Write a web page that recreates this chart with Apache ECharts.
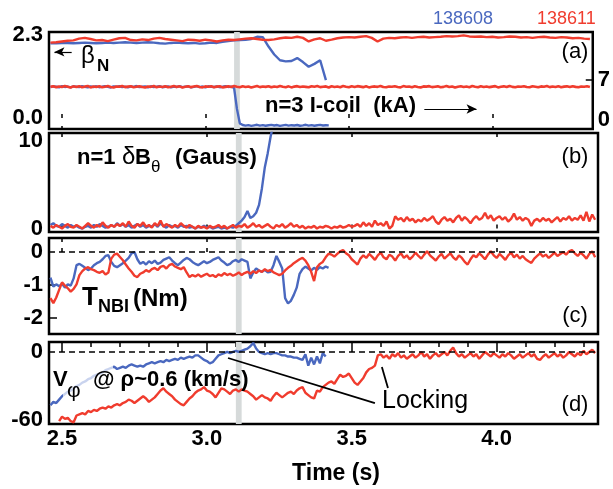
<!DOCTYPE html>
<html><head><meta charset="utf-8">
<script src="https://cdn.jsdelivr.net/npm/echarts@6/dist/echarts.min.js"></script>
<style>html,body{margin:0;padding:0;background:#fff}#c{width:613px;height:489px}</style>
</head><body><div id="c"></div>
<script>
const RED = '#f03c2e', BLUE = '#4a68bf', FADED = '#c9d3ee', BAND = '#d6dada';
const FF = "'Liberation Sans', Arial, sans-serif";

// Time axis
const X_MIN = 2.455, X_MAX = 4.35;
const xTicks = [2.5, 3.0, 3.5, 4.0];
const xMinorTicks = [2.5,2.6,2.7,2.8,2.9,3.0,3.1,3.2,3.3,3.4,3.5,3.6,3.7,3.8,3.9,4.0,4.1,4.2,4.3];
const lockBand = [3.10, 3.12];

// (a) beta_N, start 2.46, step 0.02
const betaT0 = 2.46, betaDt = 0.02;
const betaRed = [2.09,2.10,2.12,2.14,2.15,2.20,2.22,2.19,2.15,2.16,
 2.13,2.17,2.21,2.22,2.16,2.15,2.18,2.16,2.20,2.22,
 2.19,2.17,2.15,2.13,2.17,2.16,2.14,2.17,2.15,2.12,
 2.15,2.17,2.16,2.18,2.20,2.21,2.19,2.17,2.16,2.18,
 2.21,2.23,2.22,2.25,2.22,2.12,2.18,2.21,2.14,2.17,
 2.21,2.23,2.24,2.23,2.25,2.27,2.22,2.12,2.20,2.22,
 2.21,2.23,2.24,2.22,2.24,2.25,2.23,2.24,2.25,2.27,
 2.26,2.27,2.29,2.26,2.25,2.26,2.24,2.25,2.23,2.24,
 2.26,2.25,2.23,2.24,2.22,2.24,2.25,2.23,2.22,2.24,
 2.23,2.21,2.22,2.20,2.19];
const betaBlue = [2.07,2.07,2.08,2.08,2.07,2.08,2.09,2.08,2.07,2.08,
 2.09,2.08,2.09,2.10,2.09,2.08,2.09,2.10,2.09,2.07,
 2.06,2.08,2.09,2.08,2.07,2.08,2.06,2.07,2.09,2.08,
 2.11,2.13,2.15,2.16,2.17,2.19,2.25,2.24,1.98,1.76,
 1.60,1.57,1.58,1.66,1.55,1.42,1.50,1.60,1.05];
const betaTicks = [0, 2.3];

// (a) n=3 I-coil (kA), start 2.46, step 0.01
const T0 = 2.46, DT = 0.01;
const icoilRed = [5.95,6.05,5.88,6.02,5.92,6.08,5.97,5.85,6.03,5.94,
 6.06,5.90,5.99,6.10,5.87,6.01,5.93,6.04,5.89,5.98,
 6.07,5.92,5.86,6.02,5.96,6.09,5.91,5.99,6.04,5.88,
 5.97,6.06,5.93,5.87,6.01,5.95,6.08,5.90,6.00,5.94,
 6.05,5.89,5.98,6.07,5.92,6.03,5.86,5.96,6.04,5.91,
 6.00,6.08,5.93,5.88,6.02,5.97,6.06,5.90,5.99,6.05,
 5.87,5.95,6.03,5.92,6.09,5.98,5.89,6.04,5.94,6.01,
 5.86,5.97,6.07,5.91,6.00,5.95,6.05,5.88,6.02,5.93,
 6.08,5.96,5.90,6.03,5.87,5.99,6.06,5.92,6.01,5.95,
 5.89,6.04,5.97,6.07,5.91,5.98,6.02,5.86,6.05,5.94,
 6.00,5.90,6.08,5.96,5.88,6.03,5.93,6.06,5.99,5.91,
 6.04,5.87,5.97,6.02,5.95,6.09,5.92,5.89,6.01,5.98,
 6.05,5.93,5.88,6.07,5.96,6.00,5.90,6.04,5.94,5.87,
 6.02,5.99,6.06,5.91,5.97,6.03,5.89,5.95,6.08,5.92,
 6.01,5.86,5.98,6.05,5.93,6.00,5.90,6.07,5.96,5.88,
 6.04,5.94,6.02,5.91,5.99,6.06,5.87,5.97,6.03,5.92,
 6.09,5.95,5.89,6.01,5.98,6.05,5.93,5.90,6.04,5.96,
 5.88,6.02,5.97,6.07,5.91,6.00,5.94,6.06,5.89,5.99,
 6.03,5.92,6.05,5.95,5.88,6.01,5.97,6.04,5.93];
const icoilBlue = [5.92,6.02,5.96,5.89,6.05,5.94,6.00,5.87,6.03,5.97,
 5.91,6.06,5.95,5.88,6.01,5.93,6.04,5.90,5.98,6.07,
 5.94,5.86,6.02,5.96,6.05,5.91,5.99,5.88,6.03,5.95,
 6.08,5.92,5.97,6.01,5.89,6.04,5.93,5.99,6.06,5.90,
 5.96,6.02,5.87,6.00,5.94,6.05,5.91,5.98,6.03,5.89,
 5.95,6.07,5.92,6.00,5.88,6.04,5.96,5.93,6.01,5.90,
 5.97,6.05,5.94,5.99,5.80,2.60,0.40,
 0.15,0.05,0.12,0.02,0.10,0.18,0.06,0.13,0.03,0.11,
 0.16,0.07,0.14,0.01,0.09,0.17,0.05,0.12,0.08,0.15,
 0.03,0.10,0.18,0.06,0.13,0.04,0.11,0.16,0.07,0.12,0.09];
const icoilTicks = [0, 7];

// (b) n=1 dB_theta (Gauss), start 2.46, step 0.01
const dbRed = [0.3,0.1,0.4,0.2,0.0,0.3,0.5,0.2,0.1,0.4,
 0.2,0.0,0.3,0.6,0.3,0.1,0.4,0.2,0.7,0.3,
 0.1,0.4,0.2,0.5,0.3,0.6,0.2,0.8,0.3,0.1,
 0.5,0.3,0.7,0.2,0.4,0.1,0.6,0.3,0.9,0.2,
 0.5,0.3,0.1,0.4,0.2,0.6,0.3,0.1,0.4,0.2,
 0.0,0.3,0.1,0.2,0.0,0.3,0.1,0.2,0.4,0.1,
 0.3,0.0,0.2,0.4,0.1,0.3,0.2,0.5,0.1,0.3,
 0.6,0.2,0.4,0.1,0.3,0.5,0.2,0.0,0.4,0.2,
 0.5,0.1,0.3,0.6,0.2,0.4,0.1,0.3,0.0,0.2,
 0.1,0.3,0.0,0.2,0.1,0.3,0.2,0.0,0.2,0.1,
 0.3,0.1,0.2,0.4,0.2,0.3,0.5,0.2,0.7,0.3,
 0.6,0.2,0.9,0.4,0.6,0.3,0.8,0.0,0.3,1.4,
 1.0,1.2,0.8,1.3,0.9,1.1,0.7,1.0,0.8,1.2,
 0.9,1.1,1.4,0.8,0.5,1.0,1.3,0.9,1.1,0.7,
 1.2,1.5,0.9,1.3,1.0,0.6,1.1,1.4,1.0,1.2,
 1.8,1.1,1.5,0.9,1.2,1.4,1.0,1.3,0.8,1.1,
 1.7,1.0,1.3,0.9,1.2,1.0,0.3,0.9,1.1,0.8,
 1.2,0.9,1.1,0.7,1.0,1.3,0.8,1.2,1.0,1.4,
 0.9,1.2,1.0,1.5,0.9,1.9,0.8,1.6,1.0];
const dbBlue = [0.4,0.6,0.3,0.2,0.5,0.3,0.1,0.4,0.2,0.3,
 0.1,0.0,0.2,0.3,0.1,0.4,0.2,0.5,0.3,0.1,
 0.2,0.4,0.2,0.6,0.3,0.5,0.2,0.4,0.1,0.3,
 0.5,0.2,0.4,0.1,0.3,0.2,0.5,0.2,0.6,0.3,
 0.1,0.4,0.2,0.3,0.1,0.4,0.2,0.3,0.1,0.2,
 0.0,0.2,0.1,0.3,0.1,0.2,0.0,0.1,0.2,0.0,
 0.1,0.0,0.2,0.1,0.3,0.6,0.9,1.3,2.0,1.2,
 1.4,1.8,2.7,4.6,7.0,8.6,10.5,12.0];
const dbTicks = [0, 10];

// (c) T_NBI (Nm), start 2.46, step 0.01
const tnbiRed = [-1.40,-1.55,-1.38,-1.15,-0.92,-1.02,-1.10,-1.20,-1.12,-0.98,
 -0.70,-0.58,-0.50,-0.46,-0.52,-0.55,-0.60,-0.63,-0.58,-0.68,
 -0.62,-0.20,-0.08,-0.05,-0.15,-0.25,-0.38,-0.50,-0.60,-0.72,
 -0.76,-0.66,-0.62,-0.55,-0.60,-0.52,-0.48,-0.55,-0.45,-0.42,
 -0.50,-0.40,-0.36,-0.44,-0.48,-0.52,-0.46,-0.62,-0.76,-0.70,
 -0.74,-0.68,-0.75,-0.70,-0.66,-0.73,-0.70,-0.76,-0.68,-0.72,
 -0.64,-0.70,-0.66,-0.72,-0.68,-0.62,-0.70,-0.64,-0.60,-0.66,
 -0.58,-0.64,-0.56,-0.60,-0.52,-0.58,-0.54,-0.62,-0.66,-0.70,
 -0.66,-0.56,-0.48,-0.42,-0.34,-0.28,-0.22,-0.18,-0.26,-0.40,
 -0.60,-0.88,-0.46,-0.36,-0.30,-0.16,-0.05,-0.08,-0.14,-0.06,
 0.02,0.06,-0.04,-0.10,-0.22,-0.30,-0.38,-0.20,-0.10,-0.18,
 -0.06,-0.14,-0.24,-0.10,-0.02,-0.16,-0.22,-0.08,-0.14,-0.26,
 -0.12,-0.04,-0.18,-0.10,-0.22,-0.14,-0.02,-0.12,-0.20,-0.08,
 0.02,-0.10,-0.18,-0.26,-0.14,-0.06,-0.20,-0.12,-0.04,-0.16,
 -0.24,-0.10,-0.18,-0.30,-0.38,-0.22,-0.10,-0.16,-0.04,-0.12,
 -0.22,-0.08,0.02,-0.10,-0.18,-0.06,-0.14,-0.24,-0.10,-0.02,
 -0.16,-0.08,-0.20,-0.12,-0.22,-0.28,-0.33,-0.20,-0.12,-0.04,
 -0.14,-0.08,-0.18,-0.10,-0.02,-0.12,-0.06,0.00,-0.08,0.02,
 0.06,-0.04,-0.12,-0.02,-0.10,-0.20,-0.06,0.02,-0.16];
const tnbiBlue = [-0.78,-1.05,-0.98,-1.04,-0.96,-1.08,-0.98,-1.02,-0.80,-0.40,
 -0.36,-0.42,-0.48,-0.55,-0.50,-0.40,-0.34,-0.30,-0.22,-0.12,
 -0.10,-0.30,-0.42,-0.46,-0.40,-0.34,-0.26,-0.18,-0.04,0.00,
 -0.22,-0.36,-0.30,-0.38,-0.28,-0.34,-0.26,-0.36,-0.32,-0.24,
 -0.20,-0.16,-0.26,-0.34,-0.40,-0.32,-0.24,-0.18,-0.22,-0.30,
 -0.36,-0.40,-0.34,-0.28,-0.34,-0.30,-0.24,-0.20,-0.16,-0.26,
 -0.32,-0.40,-0.36,-0.28,-0.24,-0.30,-0.22,-0.26,-0.30,-0.80,
 -0.62,-0.50,-0.56,-0.60,-0.54,-0.62,-0.60,-0.40,-0.12,-0.30,
 -0.50,-1.40,-1.56,-1.48,-1.30,-1.08,-0.66,-0.52,-0.44,-0.50,
 -0.56,-0.48,-0.54,-0.46,-0.50,-0.44,-0.48];
const tnbiTicks = [-2, -1, 0];

// (d) V_phi @ rho~0.6 (km/s), step 0.01
const vphiRedT0 = 2.49;
const vphiRed = [-61,-57,-59,-58,-61,-62,-56,-55,-54,-55,
 -52,-53,-51,-52,-50,-49,-50,-48,-49,-47,
 -46,-47,-45,-44,-42,-43,-45,-43,-41,-39,
 -41,-44,-42,-40,-37,-34,-32,-35,-37,-39,
 -42,-44,-46,-47,-44,-41,-39,-36,-34,-33,
 -31,-34,-35,-37,-40,-36,-32,-33,-35,-37,
 -34,-33,-35,-33,-34,-35,-37,-39,-42,-40,
 -38,-40,-41,-43,-39,-36,-38,-40,-38,-36,
 -35,-37,-34,-32,-31,-36,-38,-40,-41,-34,
 -35,-31,-29,-27,-26,-28,-24,-20,-22,-21,
 -19,-23,-27,-29,-26,-23,-18,-15,-14,-12,
 -3,-2,-5,-3,-6,-2,-4,-1,-5,-3,
 -6,-4,-2,-5,-3,0,-4,-2,-6,-3,
 -1,-4,-2,0,-3,1,4,-1,-4,-2,
 -5,-3,-1,-4,-2,-6,-3,0,-2,-4,
 -1,-3,-5,-2,-4,-1,-3,-6,-4,-2,
 -5,-3,-1,-4,-2,-6,-7,-4,-2,-5,
 -3,-1,-4,-2,-5,-3,0,-2,-4,-1,
 -3,1,-2,0,2,-1];
const vphiBlueT0 = 2.46;
const vphiBlue = [-47,-44,-45,-42,-39,-37,-35,-34,-32,-30,
 -29,-27,-26,-24,-23,-21,-20,-19,-18,-16,
 -15,-14,-13,-15,-14,-13,-14,-12,-11,-12,
 -13,-12,-13,-11,-10,-9,-10,-9,-8,-9,
 -7,-8,-7,-6,-7,-5,-6,-5,-4,-5,
 -3,-3,-5,-7,-8,-10,-9,-6,-3,-2,
 -1,0,-1,0,1,0,1,2,3,5,
 8,3,0,-1,-2,-1,-2,-1,-1,-2,
 -3,-3,-4,-4,-5,-5,-6,-7,-2,-12,
 -5,-11,-4,-10,-1,-4];
const vphiFaded = [2.505, 2.675];
const vphiTicks = [-60, 0];

// Annotation pointers (data coordinates of panel d)
const lockLine1 = [[3.073, -5.3], [3.580, -45]];
const lockLine2 = [[3.604, -13.2], [3.625, -31.8]];

function pairs(t0, dt, vals) { return vals.map((v, i) => [+(t0 + i * dt).toFixed(3), v]); }

const grids = [
  { left: 49, right: 15, top: 32, height: 97 },
  { left: 49, right: 15, top: 133, height: 99 },
  { left: 49, right: 15, top: 238, height: 96 },
  { left: 49, right: 15, top: 342, height: 82 }
].map(g => Object.assign({ show: true, borderColor: '#000', borderWidth: 2.5, backgroundColor: 'transparent' }, g));

function xAx(gi, extra) {
  return Object.assign({
    type: 'value', gridIndex: gi, min: X_MIN, max: X_MAX,
    splitLine: { show: false }, axisLine: { show: false },
    axisLabel: { show: false },
    axisTick: { show: true, inside: true, length: 4, lineStyle: { color: '#000', width: 1.5 }, customValues: xTicks }
  }, extra || {});
}
const lblStyle = { color: '#000', fontFamily: FF, fontSize: 22, fontWeight: 'bold' };

const xAxes = [
  xAx(0), xAx(0, { position: 'top' }),
  xAx(1), xAx(1, { position: 'top' }),
  xAx(2), xAx(2, { position: 'top' }),
  xAx(3, {
    axisTick: { show: true, inside: true, length: 9, lineStyle: { color: '#000', width: 1.5 }, customValues: xTicks },
    axisLabel: Object.assign({ show: true, margin: 4, customValues: xTicks, formatter: v => v.toFixed(1) }, lblStyle)
  }),
  xAx(3, { axisTick: { show: true, inside: true, length: 5, lineStyle: { color: '#000', width: 1.5 }, customValues: xMinorTicks } })
];

function yAx(gi, min, max, labels, extra) {
  return Object.assign({
    type: 'value', gridIndex: gi, min: min, max: max,
    splitLine: { show: false }, axisLine: { show: false },
    axisTick: { show: false },
    axisLabel: Object.assign({ margin: 6, customValues: labels }, lblStyle)
  }, extra || {});
}
const yAxes = [
  yAx(0, -0.305, 2.383, betaTicks, { axisLabel: Object.assign({ margin: 6, customValues: betaTicks, formatter: v => v.toFixed(1) }, lblStyle) }),
  yAx(0, -0.46, 14.3, icoilTicks, {
    position: 'right',
    axisTick: { show: true, inside: true, length: 7, lineStyle: { color: '#000', width: 1.5 }, customValues: [7] },
    axisLabel: Object.assign({ margin: 5, customValues: icoilTicks,
      formatter: v => v === 0 ? '{z|0}' : '{s|7}',
      rich: { z: { fontFamily: FF, fontSize: 22, fontWeight: 'bold', padding: [0, 0, 12, 0] },
              s: { fontFamily: FF, fontSize: 22, fontWeight: 'bold' } } }, lblStyle)
  }),
  yAx(1, -0.4, 10.9, dbTicks),
  yAx(2, -2.485, 0.424, tnbiTicks, {
    axisTick: { show: true, inside: true, length: 8, lineStyle: { color: '#000', width: 1.5 }, customValues: [-2, -1] }
  }),
  yAx(3, -63.5, 8.8, vphiTicks)
];

function line(name, xi, yi, data, color, w) {
  const s = { name: name, type: 'line', xAxisIndex: xi, yAxisIndex: yi, data: data, showSymbol: false, symbol: 'none',
    z: 3, lineStyle: { width: w || 2.4 }, animation: false };
  if (color) { s.lineStyle.color = color; s.itemStyle = { color: color }; }
  return s;
}
function bandSeries(xi, yi, yval, extra) {
  return Object.assign({
    type: 'line', xAxisIndex: xi, yAxisIndex: yi, data: [[3.11, yval]], symbol: 'none', showSymbol: false,
    lineStyle: { opacity: 0 }, z: 1, animation: false, silent: true,
    markArea: { silent: true, itemStyle: { color: BAND }, data: [[{ xAxis: lockBand[0] }, { xAxis: lockBand[1] }]] }
  }, extra || {});
}
const dashLine = { silent: true, symbol: 'none', label: { show: false }, animation: false,
  lineStyle: { type: [6, 4], color: '#000', width: 1.5 }, data: [{ yAxis: 0 }] };

const series = [
  bandSeries(0, 0, 1.0, { markLine: { silent: true, label: { show: false }, animation: false, symbolSize: [7, 10],
    lineStyle: { type: 'solid', color: '#000', width: 1.2 },
    data: [
      [{ coord: [2.534, 1.83], symbol: 'none' }, { coord: [2.474, 1.83], symbol: 'arrow' }],
      [{ coord: [3.763, 0.25], symbol: 'none' }, { coord: [3.945, 0.25], symbol: 'arrow' }]
    ] } }),
  bandSeries(2, 2, 5),
  bandSeries(4, 3, -1, { markLine: dashLine }),
  bandSeries(6, 4, -30, { markLine: { silent: true, symbol: 'none', label: { show: false }, animation: false,
    lineStyle: { type: [6, 4], color: '#000', width: 1.5 },
    data: [
      { yAxis: 0 },
      [{ coord: lockLine1[0], lineStyle: { type: 'solid', width: 1.8 } }, { coord: lockLine1[1] }],
      [{ coord: lockLine2[0], lineStyle: { type: 'solid', width: 1.8 } }, { coord: lockLine2[1] }]
    ] } }),
  line('betaBlue', 0, 0, pairs(betaT0, betaDt, betaBlue), BLUE),
  line('betaRed', 0, 0, pairs(betaT0, betaDt, betaRed), RED),
  line('icoilBlue', 0, 1, pairs(T0, DT, icoilBlue), BLUE),
  line('icoilRed', 0, 1, pairs(T0, DT, icoilRed), RED, 2.6),
  line('dbBlue', 2, 2, pairs(T0, DT, dbBlue), BLUE),
  line('dbRed', 2, 2, pairs(T0, DT, dbRed), RED),
  line('tnbiBlue', 4, 3, pairs(T0, DT, tnbiBlue), BLUE),
  line('tnbiRed', 4, 3, pairs(T0, DT, tnbiRed), RED),
  line('vphiBlue', 6, 4, pairs(vphiBlueT0, DT, vphiBlue), null),
  line('vphiRed', 6, 4, pairs(vphiRedT0, DT, vphiRed), RED)
];
const vphiBlueIndex = series.findIndex(s => s.name === 'vphiBlue');

function txt(x, y, text, font, opts) {
  return Object.assign({ type: 'text', x: x, y: y, silent: true, z: 50,
    style: Object.assign({ text: text, font: font, fill: '#000', align: 'left', verticalAlign: 'middle' }, (opts || {})) });
}
const B22 = "bold 22px " + FF;
const graphic = [
  txt(433, 19, '138608', "18px " + FF, { fill: BLUE }),
  txt(537, 19, '138611', "18px " + FF, { fill: RED }),
  txt(575, 52, '(a)', "22px " + FF, { align: 'center' }),
  txt(81, 56, 'β', "24px " + FF),
  txt(97, 66, 'N', "bold 17px " + FF),
  txt(265, 106, 'n=3 I-coil  (kA)', B22),
  txt(575, 157, '(b)', "22px " + FF, { align: 'center' }),
  txt(77, 158, 'n=1', B22),
  txt(122, 157, 'δ', "24px " + FF),
  txt(135, 158, 'B', B22),
  txt(151, 167, 'θ', "17px " + FF),
  txt(175, 158, '(Gauss)', B22),
  txt(575, 316, '(c)', "22px " + FF, { align: 'center' }),
  txt(82, 298, 'T', "bold 26px " + FF),
  txt(98, 307, 'NBI', "bold 18px " + FF),
  txt(133, 299, '(Nm)', "bold 24px " + FF),
  txt(575, 405, '(d)', "22px " + FF, { align: 'center' }),
  txt(53, 380, 'V', B22),
  txt(67, 391, 'φ', "21px " + FF),
  txt(93, 380, '@ ρ~0.6 (km/s)', B22),
  txt(382, 401, 'Locking', "25px " + FF),
  txt(336, 474, 'Time (s)', "bold 23px " + FF, { align: 'center' })
];

const chart = echarts.init(document.getElementById('c'), null, { renderer: 'canvas' });
chart.setOption({
  animation: false,
  backgroundColor: '#fff',
  grid: grids,
  xAxis: xAxes,
  yAxis: yAxes,
  visualMap: [{
    type: 'piecewise', show: false, seriesIndex: vphiBlueIndex, dimension: 0,
    pieces: [{ gt: vphiFaded[0], lt: vphiFaded[1], color: FADED }],
    outOfRange: { color: BLUE }
  }],
  series: series,
  graphic: graphic
});
</script>
</body></html>
